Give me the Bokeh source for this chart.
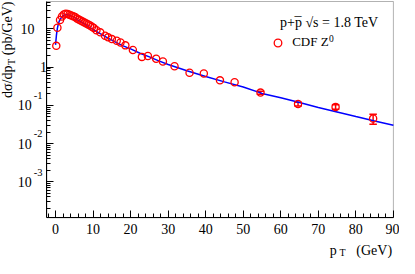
import math
from bokeh.plotting import figure
from bokeh.models import (Range1d, FixedTicker, Label, Legend, LegendItem,
                          Whisker, TeeHead, ColumnDataSource, BoxAnnotation)
from bokeh.embed import file_html
from bokeh.resources import INLINE

# ---------------- data ----------------
pt = [0.2, 0.5, 1.2, 1.7, 2.2, 2.7, 3.2, 3.7, 4.2, 4.7, 5.2, 5.7, 6.2, 6.7,
      7.2, 7.7, 8.2, 8.7, 9.2, 9.7, 10.2, 10.9, 11.9, 13.2, 14.0, 15.0, 16.3,
      17.3, 18.6, 20.6, 23.0, 24.6, 26.8, 28.6, 31.7, 35.7, 39.5, 43.8, 47.7,
      54.6, 64.6, 74.6, 84.6]
xsec = [3.6, 10.7, 17.0, 21.0, 23.8, 25.0, 24.5, 23.5, 22.5, 21.5, 20.3, 18.8,
        17.5, 16.5, 15.5, 14.6, 13.8, 13.0, 12.3, 11.4, 10.6, 9.2, 8.1, 6.6,
        6.0, 5.4, 4.9, 4.4, 3.7, 2.8, 1.85, 1.95, 1.65, 1.40, 1.05, 0.71, 0.68,
        0.45, 0.40, 0.215, 0.108, 0.091, 0.045]
xsec_err = [0.0] * 39 + [0.02, 0.012, 0.012, 0.013]

curve_pt = [0.0, 0.25, 0.5, 0.75, 1.0, 1.5, 2.0, 2.5, 3.0, 3.5, 4.0, 5.0, 6.0,
            7.0, 8.0, 9.0, 10.0, 12.0, 14.0, 16.0, 18.0, 20.0, 22.5, 25.0,
            27.5, 30.0, 35.0, 40.0, 45.0, 50.0, 55.0, 60.0, 65.0, 70.0, 75.0,
            80.0, 85.0, 90.0]
curve_val = [3.8, 7.0, 10.5, 13.5, 16.0, 19.5, 22.0, 23.3, 23.5, 23.2, 22.3,
             20.0, 17.0, 14.8, 12.8, 11.1, 9.7, 7.4, 5.7, 4.5, 3.6, 3.0, 2.3,
             1.85, 1.45, 1.17, 0.80, 0.57, 0.41, 0.30, 0.205, 0.158, 0.118,
             0.088, 0.067, 0.051, 0.039, 0.030]

x_view = (-2.3, 90.0)
y_view = (1.14e-4, 52.0)
x_major = [0, 10, 20, 30, 40, 50, 60, 70, 80, 90]
x_minor = [v for v in range(-2, 91, 2) if v % 10 != 0]
y_major = [1e-3, 1e-2, 1e-1, 1.0, 10.0]
y_base_labels = ["10", "10", "10", "1", "10"]
y_exp_labels = ["-3", "-2", "-1", "", ""]
y_minor = [k * 10.0 ** e for e in range(-4, 2) for k in range(2, 10)]

legend_title = "p+p \u221as = 1.8 TeV"
legend_label = "CDF Z"
legend_sup = "0"

# ---------------- layout ----------------
W, H = 399, 258
FL, FR, FT, FBm = 46.4, 392.9, 1.0, 217.3     # visible axes box, canvas px
FONT = "Liberation Serif"

# the plotting area covers the whole canvas; axes sit at fixed locations
kx = (x_view[1] - x_view[0]) / (FR - FL)
xr = Range1d(x_view[0] - FL * kx, x_view[1] + (W - FR) * kx)
ly0, ly1 = math.log10(y_view[0]), math.log10(y_view[1])
ky = (ly1 - ly0) / (FBm - FT)
yr = Range1d(10 ** (ly0 - (H - FBm) * ky), 10 ** (ly1 + FT * ky))

p = figure(width=W, height=H, y_axis_type="log", x_range=xr, y_range=yr,
           output_backend="svg", toolbar_location=None, min_border=0)
p.xgrid.visible = False
p.ygrid.visible = False
p.outline_line_color = None
p.background_fill_color = "white"
p.border_fill_color = "white"

xa = p.xaxis[0]
xa.fixed_location = y_view[0]
xa.bounds = x_view
xa.ticker = FixedTicker(ticks=x_major, minor_ticks=x_minor)
xa.major_tick_in = 7
xa.major_tick_out = 0
xa.minor_tick_in = 4
xa.minor_tick_out = 0
xa.axis_line_color = "black"
xa.major_tick_line_color = "black"
xa.minor_tick_line_color = "black"
xa.major_label_text_font = FONT
xa.major_label_text_font_size = "14px"
xa.major_label_text_color = "black"
xa.major_label_standoff = 6

ya = p.yaxis[0]
ya.fixed_location = x_view[0]
ya.bounds = y_view
ya.ticker = FixedTicker(ticks=y_major, minor_ticks=y_minor)
ya.major_tick_in = 7
ya.major_tick_out = 0
ya.minor_tick_in = 4
ya.minor_tick_out = 0
ya.axis_line_color = "black"
ya.major_tick_line_color = "black"
ya.minor_tick_line_color = "black"
ya.major_label_text_font_size = "2px"
ya.major_label_text_alpha = 0
ya.major_label_standoff = 0

# box around the axes
p.add_layout(BoxAnnotation(left=x_view[0], right=x_view[1],
                           bottom=y_view[0], top=y_view[1],
                           fill_alpha=0, line_color="black", line_width=1,
                           level="underlay"))


def lab(text, cx, cy=None, size=14, align="left", baseline="middle",
        angle=0.0, data_y=None, y_off=0):
    kw = dict(text=text, x=cx, x_units="screen", text_font=FONT,
              text_font_size=f"{size}px", text_color="black",
              text_align=align, text_baseline=baseline, angle=angle,
              y_offset=y_off)
    if data_y is None:
        kw.update(y=H - cy, y_units="screen")
    else:
        kw.update(y=data_y, y_units="data")
    p.add_layout(Label(**kw))


# curve and data
p.line(curve_pt, curve_val, line_color="blue", line_width=1.5)
pts = p.scatter(pt, xsec, marker="circle", size=7.2, line_color="red",
                fill_color=None, line_width=1.3)

eb = [(x, v, e) for x, v, e in zip(pt, xsec, xsec_err) if e > 0]
esrc = ColumnDataSource(dict(base=[b[0] for b in eb],
                             lower=[b[1] - b[2] for b in eb],
                             upper=[b[1] + b[2] for b in eb]))
p.add_layout(Whisker(source=esrc, base="base", lower="lower", upper="upper",
                     line_color="red", line_width=1.5,
                     upper_head=TeeHead(size=7.5, line_color="red", line_width=1.5),
                     lower_head=TeeHead(size=7.5, line_color="red", line_width=1.5)))

# y tick labels
for v, b, e in zip(y_major, y_base_labels, y_exp_labels):
    if e:
        lab(b, 31.2, data_y=v, align="right")
        lab(e, 33.3, data_y=v, size=10.5, y_off=9.6)
    elif b == "1":
        lab(b, 46.5, data_y=v, align="right")
    else:
        lab(b, 34.0, data_y=v, align="right")

# y axis title (rotated, aligned to the top of the axes box)
lab("(pb/GeV)", 7.2, cy=FT, size=14, align="right", angle=math.pi / 2)
lab("T", 11.2, cy=FT + 57.5, size=10, align="right", angle=math.pi / 2)
lab("d\u03c3/dp", 7.2, cy=FT + 64.0, size=14, align="right", angle=math.pi / 2)

# x axis title
lab("p", 329.3, cy=249.5, baseline="alphabetic")
lab("T", 338.9, cy=251.5, size=10, baseline="alphabetic")
lab("(GeV)", 391.6, cy=249.5, align="right", baseline="alphabetic")

# legend
lab(legend_title, 279.5, cy=21.7, size=14)
lab("\u00af", 297.4, cy=21.7, size=14, align="center")
leg = Legend(items=[LegendItem(label=legend_label, renderers=[pts])],
             location=(268.2, H - 51.9), padding=0, spacing=0, margin=0,
             glyph_width=19, glyph_height=19, label_standoff=5,
             label_text_font=FONT, label_text_font_size="13px",
             label_text_color="black", border_line_color=None,
             background_fill_alpha=0)
p.add_layout(leg)
lab(legend_sup, 328.6, cy=42.4, size=9.5, y_off=4)

open("out.html", "w").write(file_html(p, INLINE))
